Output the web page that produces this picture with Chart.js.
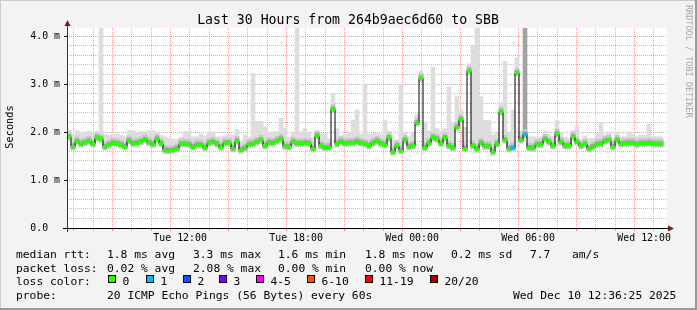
<!DOCTYPE html>
<html>
<head>
<meta charset="utf-8">
<script src="https://cdn.jsdelivr.net/npm/chart.js@4.4.1/dist/chart.umd.min.js"></script>
<style>
  html, body { margin: 0; padding: 0; background: #f3f3f3; }
  canvas { display: block; }
</style>
</head>
<body>
<canvas id="chart" width="697" height="310"></canvas>
<script>
(function(){
  const MONO = '"DejaVu Sans Mono", monospace';

  // graph window: Tue 06:40 .. Wed 12:40, one slot every 12 minutes
  const START_HOUR = 6 + 40 / 60;
  const STEP_MIN = 12;

  // median rtt per slot (ms)
  const median = [
    1.90,1.69,1.80,1.75,1.78,1.81,1.75,1.88,1.85,1.69,
    1.73,1.77,1.76,1.73,1.69,1.82,1.76,1.77,1.80,1.84,
    1.78,1.74,1.85,1.76,1.62,1.61,1.62,1.65,1.75,1.75,
    1.74,1.69,1.73,1.73,1.67,1.77,1.79,1.75,1.68,1.77,
    1.77,1.65,1.81,1.62,1.66,1.74,1.75,1.79,1.83,1.71,
    1.78,1.77,1.81,1.85,1.70,1.69,1.79,1.76,1.76,1.77,
    1.76,1.65,1.92,1.71,1.67,1.68,2.47,1.75,1.80,1.76,
    1.77,1.77,1.80,1.77,1.75,1.71,1.77,1.81,1.76,1.73,
    1.88,1.58,1.71,1.61,1.83,1.69,1.71,2.19,3.12,1.67,
    1.77,1.88,1.85,1.76,1.88,1.71,1.67,2.10,2.26,1.65,
    3.27,1.71,1.64,1.77,1.70,1.70,1.58,1.75,2.42,1.83,
    1.65,1.67,3.23,1.83,1.95,1.67,1.66,1.74,1.74,1.85,
    1.79,1.71,1.96,1.79,1.71,1.71,1.90,1.79,1.71,1.75,
    1.65,1.69,1.74,1.75,1.81,1.83,1.69,1.83,1.75,1.76,
    1.77,1.77,1.74,1.76,1.76,1.77,1.75,1.75,1.75,null
  ];

  // slowest ping per slot (top of the smoke, ms)
  const smokeMax = [
    2.04,1.95,2.03,2.00,2.00,2.02,1.97,2.02,4.20,1.95,
    1.93,1.95,1.95,1.93,1.90,2.03,2.03,1.98,2.01,2.00,
    2.03,2.03,1.98,1.93,1.90,1.87,1.85,1.85,1.89,2.01,
    2.01,1.90,1.90,1.96,1.92,2.00,2.00,1.90,1.90,1.92,
    1.92,1.94,2.05,1.80,1.94,1.90,3.22,2.22,2.22,2.11,
    1.98,2.01,2.01,2.29,2.08,1.89,2.00,4.20,2.00,2.07,
    2.00,1.88,2.03,1.97,1.97,1.86,2.79,2.07,1.92,1.95,
    1.98,2.25,2.46,1.95,3.00,1.95,1.97,1.97,1.95,2.24,
    2.02,1.82,1.84,2.99,1.97,1.90,2.00,2.37,3.27,2.20,
    2.02,3.35,2.07,2.01,2.07,2.94,2.20,2.74,2.46,2.10,
    3.42,3.81,4.20,2.74,2.24,2.24,1.95,2.00,2.62,3.47,
    2.00,2.46,3.55,2.02,4.20,1.90,1.90,1.88,1.90,2.02,
    1.95,1.90,2.24,2.00,1.89,1.87,2.03,2.13,1.84,1.92,
    1.86,1.87,1.97,2.20,1.95,1.97,1.84,2.00,1.90,1.90,
    2.00,1.95,1.90,1.93,1.93,2.16,1.90,1.90,1.90,null
  ];

  // lost pings per slot (only non-zero slots listed)
  const lossAt = { 111: 1, 114: 1 };
  const darkCols = [114];

  const lossLabels = ['0', '1', '2', '3', '4-5', '6-10', '11-19', '20/20'];
  const lossColors = ['#26ff00', '#00b8ff', '#0059ff', '#7e00ff', '#ff00ff', '#ff5500', '#ff0000', '#a10000'];
  const lossBoxX = [108, 146, 183, 219, 256, 307, 365, 430];

  const rttRow = [['median rtt:', 16], ['1.8 ms avg', 107], ['3.3 ms max', 193], ['1.6 ms min', 278],
                  ['1.8 ms now', 365], ['0.2 ms sd', 451], ['7.7', 530], ['am/s', 572]];
  const lossRow = [['packet loss:', 16], ['0.02 % avg', 107], ['2.08 % max', 193], ['0.00 % min', 278], ['0.00 % now', 365]];
  const probeRow = [['probe:', 16], ['20 ICMP Echo Pings (56 Bytes) every 60s', 107], ['Wed Dec 10 12:36:25 2025', 513]];
  const titleText = 'Last 30 Hours from 264b9aec6d60 to SBB';

  const Y_MAX = 200 / 48;
  const yGridVals = [];
  for (let k = 0; k <= 20; k++) yGridVals.push(k / 5);
  const hourTicks = [];
  for (let k = 0; k < 30; k++) hourTicks.push(1 / 3 + k);

  const slots = median.map((_, i) => {
    const m = Math.round(START_HOUR * 60 + i * STEP_MIN);
    const d = m < 1440 ? 'Tue' : 'Wed';
    const mm = m % 1440;
    return d + ' ' + String(Math.floor(mm / 60)).padStart(2, '0') + ':' + String(mm % 60).padStart(2, '0');
  });

  function isMajor(v){ return Math.abs(v - Math.round(v)) < 1e-6; }
  function hourOf(v){ return Math.round(START_HOUR + v); }

  const RED = 'rgba(230,110,110,0.7)';
  const GRAY = 'rgba(150,150,150,0.6)';

  const band = (lo, hi) => median.map(m => m == null ? null : [m - lo, m + hi]);
  const smoke = median.map((m, i) => m == null ? null : [m - 0.07, smokeMax[i]]);

  const barBase = { type: 'bar', grouped: false, barPercentage: 1, categoryPercentage: 1, borderWidth: 0 };

  const framePlugin = {
    id: 'rrdFrame',
    beforeDraw(chart){
      const { ctx, chartArea: a } = chart;
      ctx.save();
      ctx.fillStyle = '#f3f3f3';
      ctx.fillRect(0, 0, chart.width, chart.height);
      ctx.fillStyle = '#ffffff';
      ctx.fillRect(a.left, a.top, a.right - a.left, a.bottom - a.top);
      ctx.restore();
    },
    afterDraw(chart){
      const { ctx, chartArea: a } = chart;
      ctx.save();
      // axes
      ctx.strokeStyle = '#333';
      ctx.lineWidth = 1;
      ctx.beginPath();
      ctx.moveTo(a.left + 0.5, a.bottom + 4);
      ctx.lineTo(a.left + 0.5, a.top - 3);
      ctx.stroke();
      ctx.strokeStyle = '#000';
      ctx.beginPath();
      ctx.moveTo(a.left - 4, a.bottom + 0.5);
      ctx.lineTo(a.right + 3, a.bottom + 0.5);
      ctx.stroke();
      // arrows
      ctx.fillStyle = '#801818';
      ctx.beginPath();
      ctx.moveTo(a.left + 0.5, a.top - 8);
      ctx.lineTo(a.left - 2.5, a.top - 2);
      ctx.lineTo(a.left + 3.5, a.top - 2);
      ctx.closePath();
      ctx.fill();
      ctx.beginPath();
      ctx.moveTo(a.right + 7, a.bottom + 0.5);
      ctx.lineTo(a.right + 1, a.bottom - 2.5);
      ctx.lineTo(a.right + 1, a.bottom + 3.5);
      ctx.closePath();
      ctx.fill();

      // title
      ctx.fillStyle = '#000';
      ctx.font = '13.2px ' + MONO;
      ctx.textAlign = 'center';
      ctx.textBaseline = 'alphabetic';
      ctx.fillText(titleText, 348, 24);

      // y title
      ctx.save();
      ctx.translate(10, 127);
      ctx.rotate(-Math.PI / 2);
      ctx.font = '10.3px ' + MONO;
      ctx.textBaseline = 'middle';
      ctx.fillText('Seconds', 0, 0);
      ctx.restore();

      // watermark
      ctx.save();
      ctx.translate(688, 5);
      ctx.rotate(Math.PI / 2);
      ctx.font = '8.5px ' + MONO;
      ctx.fillStyle = '#a8a8a8';
      ctx.textAlign = 'left';
      ctx.textBaseline = 'middle';
      ctx.fillText('RRDTOOL / TOBI OETIKER', 0, 0);
      ctx.restore();

      // legend block
      ctx.font = '11.3px ' + MONO;
      ctx.textAlign = 'left';
      ctx.fillStyle = '#000';
      rttRow.forEach(([t, x]) => ctx.fillText(t, x, 258));
      lossRow.forEach(([t, x]) => ctx.fillText(t, x, 271.5));
      ctx.fillText('loss color:', 16, 285);
      lossLabels.forEach((t, i) => {
        const bx = lossBoxX[i];
        ctx.fillStyle = lossColors[i];
        ctx.fillRect(bx, 275, 8, 8);
        ctx.strokeStyle = '#000';
        ctx.strokeRect(bx + 0.5, 275.5, 7, 7);
        ctx.fillStyle = '#000';
        ctx.fillText(t, bx + 14.5, 285);
      });
      probeRow.forEach(([t, x]) => ctx.fillText(t, x, 298.5));

      // 3d frame
      ctx.fillStyle = '#cbcbcb';
      ctx.fillRect(0, 0, chart.width, 1);
      ctx.fillRect(0, 0, 1, chart.height);
      ctx.fillStyle = '#999999';
      ctx.fillRect(0, chart.height - 2, chart.width, 2);
      ctx.fillRect(chart.width - 2, 0, 2, chart.height);
      ctx.restore();
    }
  };

  new Chart(document.getElementById('chart'), {
    type: 'bar',
    data: {
      labels: slots,
      datasets: [
        Object.assign({}, barBase, {
          data: smoke, order: 6,
          backgroundColor: c => darkCols.includes(c.dataIndex) ? '#a3a3a3' : '#dddddd'
        }),
        Object.assign({}, barBase, { data: band(0.06, 0.10), order: 5, backgroundColor: '#c6c6c6' }),
        Object.assign({}, barBase, { data: band(0.03, 0.05), order: 4, backgroundColor: '#9c9c9c' }),
        {
          type: 'line', data: median, order: 3, stepped: 'middle',
          borderColor: '#000', borderWidth: 1, pointRadius: 0, fill: false
        },
        Object.assign({}, barBase, {
          data: band(0.03, 0.03), order: 1,
          backgroundColor: c => lossColors[lossAt[c.dataIndex] || 0]
        })
      ]
    },
    options: {
      responsive: false,
      animation: false,
      devicePixelRatio: 1,
      layout: { padding: { top: 28, right: 30, bottom: 62, left: 0 } },
      plugins: { legend: { display: false }, tooltip: { enabled: false }, title: { display: false } },
      scales: {
        x: { type: 'category', display: false, offset: true, grid: { display: false } },
        xt: {
          type: 'linear', position: 'bottom', min: 0, max: 30,
          afterBuildTicks: s => { s.ticks = hourTicks.map(v => ({ value: v })); },
          afterFit: s => { s.height = 20; },
          ticks: {
            autoSkip: false, maxRotation: 0, minRotation: 0, padding: 1, color: '#000',
            font: { family: MONO, size: 9.9 },
            callback: v => {
              const h = hourOf(v);
              if (h % 6 !== 0) return '';
              return (h < 24 ? 'Tue ' : 'Wed ') + String(h % 24).padStart(2, '0') + ':00';
            }
          },
          grid: {
            tickLength: 3,
            color: c => (c.tick && hourOf(c.tick.value) % 3 === 0) ? RED : GRAY
          },
          border: { display: false, dash: [1, 1] }
        },
        y: {
          min: 0, max: Y_MAX,
          afterBuildTicks: s => { s.ticks = yGridVals.map(v => ({ value: v })); },
          afterFit: s => { s.width = 67; },
          ticks: {
            autoSkip: false, padding: 4, color: '#000',
            font: { family: MONO, size: 9.9 },
            callback: v => isMajor(v) ? (v === 0 ? '0.0  ' : v.toFixed(1) + ' m') : ''
          },
          grid: {
            tickLength: 3,
            color: c => (c.tick && isMajor(c.tick.value)) ? RED : GRAY,
            tickColor: c => (c.tick && isMajor(c.tick.value)) ? '#000' : 'rgba(0,0,0,0)'
          },
          border: { display: false, dash: [1, 1] }
        }
      }
    },
    plugins: [framePlugin]
  });
})();
</script>
</body>
</html>
